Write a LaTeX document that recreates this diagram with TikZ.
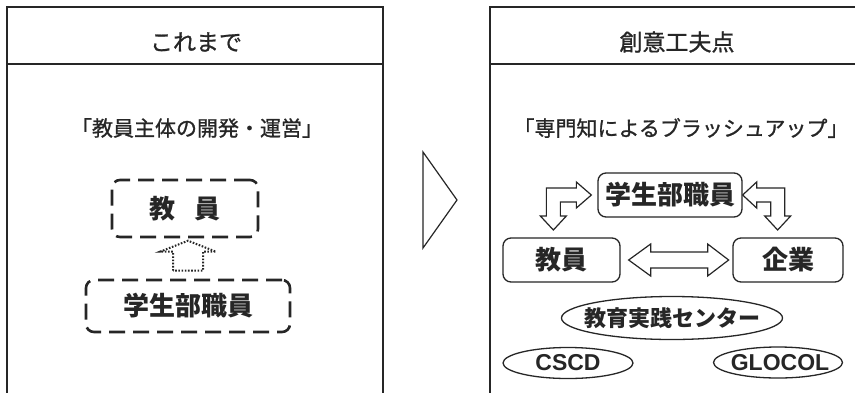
\documentclass[tikz,border=0pt]{standalone}
\usepackage{fontspec}
\setmainfont{Liberation Sans}
\newfontfamily\jp{Noto Sans CJK JP}
\newfontfamily\jpm{Noto Sans CJK JP}[FakeBold=1]
\usetikzlibrary{shapes.geometric,calc}
\begin{document}
\begin{tikzpicture}[x=1pt,y=-1pt,
  panel/.style={draw=black!85, line width=1.4pt},
  ttl/.style={font=\jpm\fontsize{23}{25}\selectfont, text=black!85},
  sub/.style={font=\jpm\fontsize{21}{23}\selectfont, text=black!85},
  dbox/.style={draw=black!85, line width=2.6pt, dash pattern=on 16pt off 8pt, rounded corners=8pt, inner sep=0pt, font=\jp\bfseries\fontsize{26}{28}\selectfont, text=black!85},
  rbox/.style={draw=black!85, line width=1.3pt, rounded corners=8pt, inner sep=0pt, font=\jp\bfseries\fontsize{26}{28}\selectfont, text=black!85},
  ell/.style={draw=black!85, ellipse, line width=1.3pt, inner sep=0pt},
  blk/.style={draw=black!85, line width=1.2pt, line join=miter, fill=white},
  dotarrow/.style={draw=black!85, line width=2pt, dash pattern=on 1.6pt off 1.6pt},
  chev/.style={draw=black!85, line width=1.2pt, line join=miter}
]
\useasboundingbox (0,0) rectangle (855,392);
\fill[white] (0,0) rectangle (855,392);
\begin{scope}
\clip (0,0) rectangle (855,392);
\draw[panel] (7,7) rectangle (383,400);
\draw[panel] (7,64) -- (383,64);
\draw[panel] (490,7) rectangle (870,400);
\draw[panel] (490,64) -- (870,64);
\end{scope}

% left panel
\node[ttl] (t1) at (196,42) {これまで};
\node[sub] (s1) at (197,128) {「教員主体の開発・運営」};
\node[dbox, minimum width=146, minimum height=57] (a1) at (185,208.5) {教\hspace{20pt}員};
\node[dbox, minimum width=204, minimum height=52] (a2) at (188,306) {学生部職員};
\draw[dotarrow] ($(a2.north)+(-15,-8)$) -- ++(0,-19) -- ++(-13,0) -- ++(28,-11) -- ++(28,11) -- ++(-13,0) -- ++(0,19) -- cycle;

% center chevron
\draw[chev] (423,152) -- (457,200) -- (423,248) -- cycle;

% right panel
\node[ttl] (t2) at (677,42) {創意工夫点};
\node[sub] (s2) at (681,128) {「専門知によるブラッシュアップ」};
\node[rbox, minimum width=144, minimum height=44] (r1) at (670,195) {学生部職員};
\node[rbox, minimum width=117, minimum height=44] (r2) at (561.5,260) {教員};
\node[rbox, minimum width=110, minimum height=44] (r3) at (788,260) {企業};

\draw[blk] ($(r2.east)+(8,0)$) -- ++(22,-16) -- ++(0,8) -- ++(57,0) -- ++(0,-8) -- ++(21,16) -- ++(-21,16) -- ++(0,-8) -- ++(-57,0) -- ++(0,8) -- cycle;
\draw[blk] ($(r1.west)+(-6,0)$) -- ++(-15,-13) -- ++(0,6) -- ++(-30,0) -- ++(0,28) -- ++(-6,0) -- ++(13,14) -- ++(13,-14) -- ++(-6,0) -- ++(0,-14) -- ++(16,0) -- ++(0,6) -- cycle;
\draw[blk] (r1.east) -- ++(14,-13) -- ++(0,6) -- ++(28,0) -- ++(0,28) -- ++(6,0) -- ++(-13,14) -- ++(-13,-14) -- ++(6,0) -- ++(0,-14) -- ++(-14,0) -- ++(0,6) -- cycle;

\node[ell, minimum width=221, minimum height=43,
  label={[font=\jp\bfseries\fontsize{22}{24}\selectfont, text=black!85]center:教育実践センター}] (e1) at (672,318) {};
\node[ell, minimum width=130, minimum height=31,
  label={[font=\bfseries\fontsize{23}{25}\selectfont, text=black!85]center:CSCD}] (e2) at (568,363) {};
\node[ell, minimum width=129, minimum height=31,
  label={[font=\bfseries\fontsize{23}{25}\selectfont, text=black!85, xshift=2pt]center:GLOCOL}] (e3) at (778,362.5) {};
\end{tikzpicture}
\end{document}
